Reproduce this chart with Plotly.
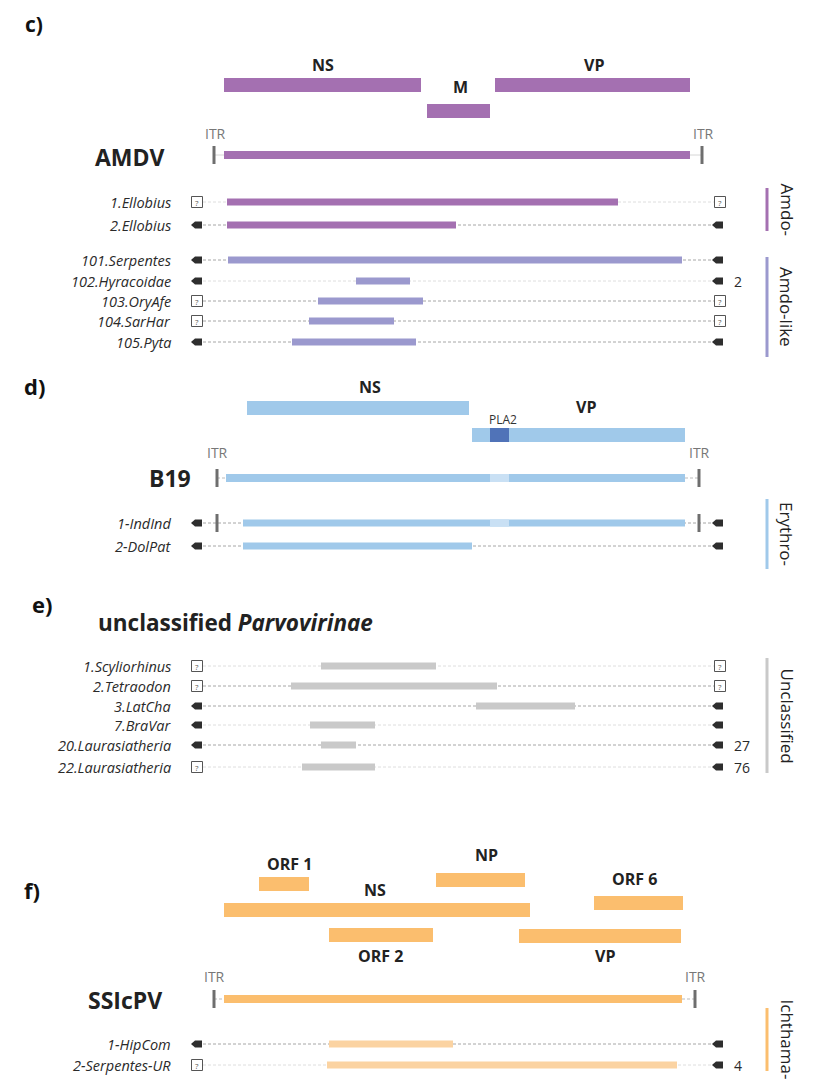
import plotly.graph_objects as go

# ---------------- DATA ----------------
# Panel c: AMDV reference genome (positions on the drawing's genome scale)
amdv_genes = ["NS", "M", "VP"]
amdv_gene_start = [224, 427, 495]
amdv_gene_end = [421, 490, 690]
amdv_genome = [224, 690]
amdv_itr = [214, 702]

amdo_samples = ["1.Ellobius", "2.Ellobius"]
amdo_start = [227, 227]
amdo_end = [618, 456]
amdo_left = ["?", "arrow"]
amdo_right = ["?", "arrow"]
amdo_copies = ["", ""]

amdolike_samples = ["101.Serpentes", "102.Hyracoidae", "103.OryAfe", "104.SarHar", "105.Pyta"]
amdolike_start = [228, 356, 318, 309, 292]
amdolike_end = [682, 410, 423, 394, 416]
amdolike_left = ["arrow", "arrow", "?", "?", "arrow"]
amdolike_right = ["arrow", "arrow", "?", "?", "arrow"]
amdolike_copies = ["", "2", "", "", ""]

# Panel d: B19
b19_genes = ["NS", "VP"]
b19_gene_start = [247, 472]
b19_gene_end = [469, 685]
b19_pla2 = [490, 509]
b19_genome = [226, 685]
b19_itr = [217, 699]

erythro_samples = ["1-IndInd", "2-DolPat"]
erythro_start = [243, 243]
erythro_end = [685, 472]
erythro_left = ["arrow", "arrow"]
erythro_right = ["arrow", "arrow"]
erythro_copies = ["", ""]

# Panel e: unclassified Parvovirinae
uncl_samples = ["1.Scyliorhinus", "2.Tetraodon", "3.LatCha", "7.BraVar",
                "20.Laurasiatheria", "22.Laurasiatheria"]
uncl_start = [321, 291, 476, 310, 321, 302]
uncl_end = [436, 497, 575, 375, 356, 375]
uncl_left = ["?", "?", "arrow", "arrow", "arrow", "?"]
uncl_right = ["?", "?", "arrow", "arrow", "arrow", "arrow"]
uncl_copies = ["", "", "", "", "27", "76"]

# Panel f: SSIcPV
ssic_genes = ["ORF 1", "NS", "NP", "ORF 6", "ORF 2", "VP"]
ssic_gene_start = [259, 224, 436, 594, 329, 519]
ssic_gene_end = [309, 530, 525, 683, 433, 681]
ssic_genome = [224, 682]
ssic_itr = [214, 695]

ichth_samples = ["1-HipCom", "2-Serpentes-UR"]
ichth_start = [329, 327]
ichth_end = [453, 677]
ichth_left = ["arrow", "?"]
ichth_right = ["arrow", "arrow"]
ichth_copies = ["", "4"]

# ---------------- STYLE / LAYOUT ----------------
PURPLE = "#A470B1"
LAVENDER = "#9B99CE"
BLUE = "#A0C9EA"
DARKBLUE = "#5073B8"
PALEBLUE = "#C9E0F4"
GRAY = "#C9C9C9"
ORANGE = "#FBBE6E"
PALEORANGE = "#FBD3A2"
DARK = "#2a2a2a"
ITRC = "#6E6E6E"
FONT = "Open Sans"
OFF = 8  # page body margin compensation

LEFT_X = 197
RIGHT_X = 720

shapes = []
annots = []


def rect(x0, x1, y0, y1, color, layer="above"):
    shapes.append(dict(type="rect", xref="x", yref="y", x0=x0, x1=x1, y0=y0, y1=y1,
                       fillcolor=color, line=dict(width=0), layer=layer))


def text(x, y, s, size=14, color=DARK, bold=False, italic=False, xanchor="center",
         angle=0, family=FONT):
    if bold:
        s = "<b>" + s + "</b>"
    if italic:
        s = "<i>" + s + "</i>"
    annots.append(dict(x=x, y=y, xref="x", yref="y", text=s, showarrow=False,
                       xanchor=xanchor, yanchor="middle", textangle=angle,
                       font=dict(size=size, color=color, family=family)))


def dline(x0, x1, y, color="#9a9a9a", dash="3px,2px", width=0.8):
    shapes.append(dict(type="line", xref="x", yref="y", x0=x0, x1=x1, y0=y, y1=y,
                       line=dict(color=color, width=width, dash=dash), layer="below"))


def arrow_marker(x, y):
    shapes.append(dict(type="path", xref="x", yref="y",
                       path=f"M {x-6},{y} L {x-2},{y-3.5} L {x+5},{y-3.5} L {x+5},{y+3.5} L {x-2},{y+3.5} Z",
                       fillcolor="#2e2e2e", line=dict(width=0)))


def q_marker(x, y):
    shapes.append(dict(type="rect", xref="x", yref="y", x0=x - 5.5, x1=x + 5.5, y0=y - 5.5, y1=y + 5.5,
                       fillcolor="white", line=dict(color="#555555", width=1)))
    text(x, y + 0.5, "?", size=8, color="#555555")


def itr_mark(x, y):
    rect(x - 1.5, x + 1.5, y - 9, y + 9, ITRC)


def sample_rows(names, starts, ends, lefts, rights, copies, ys, color, dark_lines, italic=True):
    for i, nm in enumerate(names):
        y = ys[i]
        if dark_lines[i]:
            dline(LEFT_X + 6, RIGHT_X - 6, y, color="#8f8f8f", width=0.8)
        else:
            dline(LEFT_X + 6, RIGHT_X - 6, y, color="#d6d6d6", width=0.8)
        rect(starts[i], ends[i], y - 3.5, y + 3.5, color)
        if lefts[i] == "?":
            q_marker(LEFT_X, y)
        else:
            arrow_marker(LEFT_X, y)
        if rights[i] == "?":
            q_marker(RIGHT_X, y)
        else:
            arrow_marker(RIGHT_X - 2, y)
        if copies[i]:
            text(732, y, copies[i], size=14, xanchor="left")
        text(173, y, nm, size=14.5, italic=italic, xanchor="right")


def group_bar(x, y0, y1, color, label):
    rect(x - 1.5, x + 1.5, y0, y1, color)
    text(787, (y0 + y1) / 2, label, size=17, angle=90, color="#222222")


# ---------- Panel c ----------
text(34, 24, "c)", size=21, bold=True, color="#111111")
gene_y_c = [85, 111, 85]
gene_lab_y_c = [65, 87, 65]
gene_lab_x_c = [323, 460, 594]
for i, g in enumerate(amdv_genes):
    yc = gene_y_c[i]
    rect(amdv_gene_start[i], amdv_gene_end[i], yc - 7, yc + 7, PURPLE)
    text(gene_lab_x_c[i], gene_lab_y_c[i], g, size=16, bold=True, color="#222222")
rect(amdv_genome[0], amdv_genome[1], 151, 159, PURPLE)
for xi in amdv_itr:
    itr_mark(xi, 155)
    text(xi + 1, 133, "ITR", size=14, color="#777777")
dline(amdv_itr[0], amdv_genome[0], 155, color="#cccccc", dash="solid", width=0.8)
dline(amdv_genome[1], amdv_itr[1], 155, color="#cccccc", dash="solid", width=0.8)
text(130, 157, "AMDV", size=23, bold=True, color="#222222")

sample_rows(amdo_samples, amdo_start, amdo_end, amdo_left, amdo_right, amdo_copies,
            [202, 225], PURPLE, [False, True])
sample_rows(amdolike_samples, amdolike_start, amdolike_end, amdolike_left, amdolike_right,
            amdolike_copies, [260, 281, 301, 321, 342], LAVENDER, [True, False, True, True, True])
group_bar(767, 188, 231, PURPLE, "Amdo-")
group_bar(767, 257, 357, LAVENDER, "Amdo-like")

# ---------- Panel d ----------
text(34, 386, "d)", size=22, bold=True, color="#111111")
rect(b19_gene_start[0], b19_gene_end[0], 401, 415, BLUE)
text(370, 387, "NS", size=16, bold=True, color="#222222")
rect(b19_gene_start[1], b19_gene_end[1], 428, 442, BLUE)
rect(b19_pla2[0], b19_pla2[1], 428, 442, DARKBLUE)
text(503, 419, "PLA2", size=12, color="#333333")
text(586, 407, "VP", size=16, bold=True, color="#222222")

rect(b19_genome[0], b19_genome[1], 474, 482, BLUE)
rect(b19_pla2[0], b19_pla2[1], 474, 482, PALEBLUE)
for xi in b19_itr:
    itr_mark(xi, 478)
    text(xi, 452, "ITR", size=14, color="#777777")
dline(b19_itr[0], b19_genome[0], 478, color="#aaaaaa", width=0.8)
dline(b19_genome[1], b19_itr[1], 478, color="#aaaaaa", width=0.8)
text(170, 478, "B19", size=23, bold=True, color="#222222")

sample_rows(erythro_samples, erythro_start, erythro_end, erythro_left, erythro_right,
            erythro_copies, [523, 546], BLUE, [True, True])
rect(b19_pla2[0], b19_pla2[1], 523 - 3.5, 523 + 3.5, PALEBLUE)
itr_mark(b19_itr[0], 523)
itr_mark(b19_itr[1], 523)
group_bar(767, 499, 569, BLUE, "Erythro-")

# ---------- Panel e ----------
text(42, 604, "e)", size=22, bold=True, color="#111111")
text(96, 622, "<b>unclassified <i>Parvovirinae</i></b>", size=22.5, color="#222222", xanchor="left")
sample_rows(uncl_samples, uncl_start, uncl_end, uncl_left, uncl_right, uncl_copies,
            [666, 686, 706, 725, 745, 767], GRAY, [False, True, True, False, True, False])
group_bar(767, 658, 773, GRAY, "Unclassified")

# ---------- Panel f ----------
text(32, 890, "f)", size=22, bold=True, color="#111111")
gene_y_f = [884, 910, 880, 903, 935, 936]
gene_lab_x_f = [289, 375, 486, 634, 380, 605]
gene_lab_y_f = [864, 890, 855, 879, 956, 956]
for i, g in enumerate(ssic_genes):
    yc = gene_y_f[i]
    rect(ssic_gene_start[i], ssic_gene_end[i], yc - 7, yc + 7, ORANGE)
    text(gene_lab_x_f[i], gene_lab_y_f[i], g, size=16, bold=True, color="#222222")
rect(ssic_genome[0], ssic_genome[1], 995, 1003, ORANGE)
for xi in ssic_itr:
    itr_mark(xi, 999)
    text(xi, 976, "ITR", size=14, color="#777777")
dline(ssic_itr[0], ssic_genome[0], 999, color="#aaaaaa", width=0.8)
dline(ssic_genome[1], ssic_itr[1], 999, color="#aaaaaa", width=0.8)
text(125, 1000, "SSIcPV", size=23, bold=True, color="#222222")

sample_rows(ichth_samples, ichth_start, ichth_end, ichth_left, ichth_right, ichth_copies,
            [1044, 1065], PALEORANGE, [True, False])
group_bar(767, 1008, 1071, ORANGE, "Ichthama-")

# ---------------- FIGURE ----------------
fig = go.Figure()
fig.add_trace(go.Scatter(x=[OFF, 820 + OFF], y=[OFF, 1081 + OFF], mode="markers",
                         marker=dict(opacity=0), hoverinfo="skip", showlegend=False))
fig.update_layout(
    width=820, height=1081,
    margin=dict(l=0, r=0, t=0, b=0),
    paper_bgcolor="white", plot_bgcolor="white",
    shapes=shapes, annotations=annots,
    xaxis=dict(range=[OFF, 820 + OFF], visible=False, fixedrange=True),
    yaxis=dict(range=[1081 + OFF, OFF], visible=False, fixedrange=True),
    showlegend=False,
)
fig.write_html("out.html")
